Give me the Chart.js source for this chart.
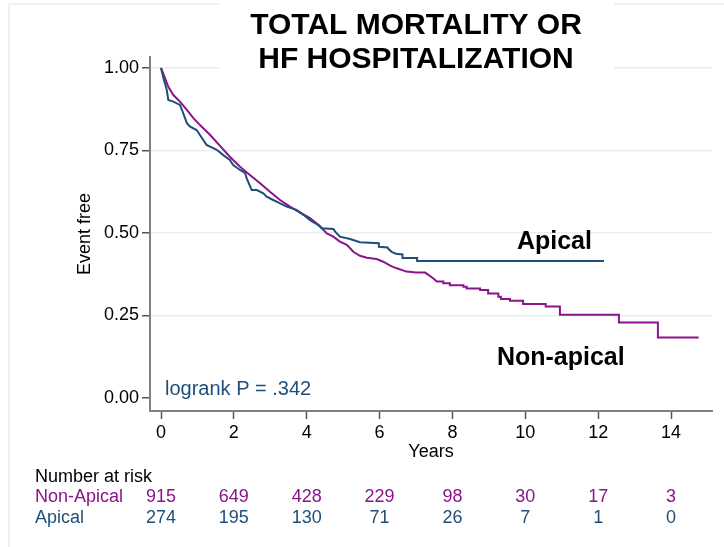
<!DOCTYPE html>
<html>
<head>
<meta charset="utf-8">
<script src="https://cdn.jsdelivr.net/npm/chart.js@4.4.1/dist/chart.umd.min.js"></script>
<style>
  html, body { margin: 0; padding: 0; background: #fff; }
  canvas { display: block; }
</style>
</head>
<body>
<canvas id="km" width="724" height="547"></canvas>
<script>
// curve vertices: years, proportion event free
var nonApicalTime = [0, 0.11, 0.20, 0.34, 0.52, 0.71, 0.89, 1.07, 1.35, 1.62, 1.89, 2.17, 2.44, 2.72, 2.99,
  3.27, 3.54, 3.82, 4.09, 4.36, 4.55, 4.73, 4.91, 5.10, 5.28, 5.46, 5.65, 5.92, 6.10, 6.29, 6.47, 6.74,
  7.00, 7.25, 7.47, 7.57, 7.75, 7.75, 7.93, 7.93, 8.30, 8.30, 8.39, 8.39, 8.76, 8.76, 8.98, 8.98,
  9.26, 9.26, 9.33, 9.33, 9.58, 9.58, 9.94, 9.94, 10.56, 10.56, 10.95, 10.95, 12.57, 12.57, 13.64, 13.64, 14.76];
var nonApicalSurv = [1, 0.969, 0.943, 0.918, 0.898, 0.873, 0.848, 0.827, 0.797, 0.764, 0.731, 0.701, 0.676, 0.651, 0.625,
  0.600, 0.580, 0.562, 0.545, 0.521, 0.499, 0.489, 0.474, 0.464, 0.443, 0.431, 0.425, 0.421, 0.413, 0.401, 0.393, 0.383,
  0.380, 0.380, 0.363, 0.353, 0.353, 0.348, 0.348, 0.342, 0.342, 0.337, 0.337, 0.332, 0.332, 0.327, 0.327, 0.317,
  0.317, 0.307, 0.307, 0.300, 0.300, 0.295, 0.295, 0.285, 0.285, 0.277, 0.277, 0.252, 0.252, 0.229, 0.229, 0.183, 0.183];

var apicalTime = [0, 0.08, 0.16, 0.20, 0.34, 0.52, 0.61, 0.71, 0.80, 0.98, 1.16, 1.25, 1.53, 1.71, 1.89, 1.98,
  2.17, 2.31, 2.35, 2.49, 2.63, 2.81, 2.90, 3.08, 3.27, 3.45, 3.72, 3.91, 4.09, 4.32, 4.41, 4.73, 4.80, 4.91,
  5.19, 5.46, 5.98, 5.98, 6.22, 6.24, 6.33, 6.45, 6.63, 6.63, 7.03, 7.03, 12.16];
var apicalSurv = [1, 0.964, 0.933, 0.903, 0.898, 0.888, 0.863, 0.833, 0.822, 0.812, 0.782, 0.767, 0.752, 0.736, 0.721, 0.706,
  0.691, 0.681, 0.666, 0.630, 0.630, 0.620, 0.610, 0.600, 0.590, 0.580, 0.570, 0.555, 0.539, 0.524, 0.514, 0.512, 0.502, 0.489,
  0.482, 0.472, 0.469, 0.458, 0.456, 0.452, 0.443, 0.437, 0.435, 0.424, 0.424, 0.415, 0.415];

var riskTimes = [0, 2, 4, 6, 8, 10, 12, 14];
var nonApicalRisk = [915, 649, 428, 229, 98, 30, 17, 3];
var apicalRisk = [274, 195, 130, 71, 26, 7, 1, 0];

var xTicks = [0, 2, 4, 6, 8, 10, 12, 14];
var yTicks = [0, 0.25, 0.5, 0.75, 1];

var PURPLE = '#8b138b';
var BLUE = '#1f4e79';
var FONT = '"Liberation Sans", Arial, Helvetica, sans-serif';

function toPoints(t, s) {
  return t.map(function (v, i) { return { x: v, y: s[i] }; });
}

var extras = {
  id: 'extras',
  beforeDraw: function (chart) {
    var ctx = chart.ctx;
    ctx.save();
    ctx.fillStyle = '#fff';
    ctx.fillRect(0, 0, chart.width, chart.height);
    // faint outer frame of the graph region
    ctx.strokeStyle = '#e6eef1';
    ctx.lineWidth = 1.5;
    ctx.beginPath();
    ctx.moveTo(9, 547);
    ctx.lineTo(9, 4);
    ctx.lineTo(724, 4);
    ctx.stroke();
    ctx.restore();
  },
  afterDraw: function (chart) {
    var ctx = chart.ctx;
    var x = chart.scales.x, y = chart.scales.y;
    ctx.save();

    // title box
    ctx.fillStyle = '#fff';
    ctx.fillRect(219, 0, 395, 76);
    ctx.fillStyle = '#000';
    ctx.textAlign = 'center';
    ctx.textBaseline = 'middle';
    ctx.font = 'bold 30px ' + FONT;
    ctx.fillText('TOTAL MORTALITY OR', 416, 26);
    ctx.fillText('HF HOSPITALIZATION', 416, 60);

    // curve labels
    ctx.textAlign = 'left';
    ctx.font = 'bold 25px ' + FONT;
    ctx.fillText('Apical', x.getPixelForValue(9.77), y.getPixelForValue(0.473));
    ctx.fillText('Non-apical', x.getPixelForValue(9.22), y.getPixelForValue(0.121));

    ctx.fillStyle = BLUE;
    ctx.font = '20px ' + FONT;
    ctx.fillText('logrank P = .342', x.getPixelForValue(0.11), y.getPixelForValue(0.025));

    // number at risk table
    ctx.font = '18px ' + FONT;
    ctx.fillStyle = '#000';
    ctx.fillText('Number at risk', 35, 477);
    ctx.fillStyle = PURPLE;
    ctx.fillText('Non-Apical', 35, 497);
    ctx.fillStyle = BLUE;
    ctx.fillText('Apical', 35, 518);
    ctx.textAlign = 'center';
    riskTimes.forEach(function (t, i) {
      var px = x.getPixelForValue(t);
      ctx.fillStyle = PURPLE;
      ctx.fillText(String(nonApicalRisk[i]), px, 497);
      ctx.fillStyle = BLUE;
      ctx.fillText(String(apicalRisk[i]), px, 518);
    });
    ctx.restore();
  }
};

new Chart(document.getElementById('km'), {
  type: 'line',
  data: {
    datasets: [
      { label: 'Apical', data: toPoints(apicalTime, apicalSurv), borderColor: BLUE, borderWidth: 2 },
      { label: 'Non-apical', data: toPoints(nonApicalTime, nonApicalSurv), borderColor: PURPLE, borderWidth: 2 }
    ]
  },
  options: {
    responsive: false,
    animation: false,
    parsing: false,
    layout: { padding: { top: 57, right: 12, left: 0, bottom: 0 } },
    elements: { point: { radius: 0 }, line: { tension: 0, fill: false } },
    plugins: { legend: { display: false }, tooltip: { enabled: false } },
    scales: {
      x: {
        type: 'linear',
        min: -0.302,
        max: 15.125,
        afterBuildTicks: function (s) { s.ticks = xTicks.map(function (v) { return { value: v }; }); },
        afterFit: function (s) { s.height = 136; },
        ticks: { color: '#000', padding: 3, font: { family: FONT, size: 18 }, maxRotation: 0 },
        grid: { drawOnChartArea: false, tickLength: 8, tickColor: '#555', tickWidth: 1.5 },
        border: { display: true, color: '#808080', width: 2 },
        title: { display: true, text: 'Years', color: '#000', font: { family: FONT, size: 18 }, padding: { top: 0, bottom: 84 } }
      },
      y: {
        type: 'linear',
        min: -0.0394,
        max: 1.0333,
        afterBuildTicks: function (s) { s.ticks = yTicks.map(function (v) { return { value: v }; }); },
        afterFit: function (s) { s.width = 150; },
        ticks: {
          color: '#000', padding: 3, font: { family: FONT, size: 18 },
          callback: function (v) { return Number(v).toFixed(2); }
        },
        grid: {
          color: function (c) { return c.tick && c.tick.value === 0 ? 'rgba(0,0,0,0)' : '#e8eff2'; },
          lineWidth: 1.5, tickLength: 8, tickColor: '#555', tickWidth: 1.5
        },
        border: { display: true, color: '#808080', width: 2 },
        title: { display: true, text: 'Event free', color: '#000', font: { family: FONT, size: 18 }, padding: { top: 74, bottom: 0 } }
      }
    }
  },
  plugins: [extras]
});
</script>
</body>
</html>
